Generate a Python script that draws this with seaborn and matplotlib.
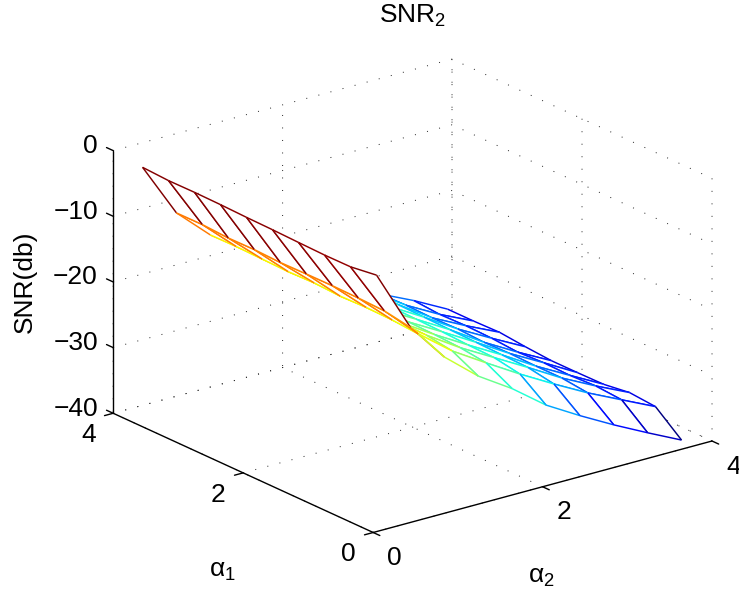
import matplotlib
matplotlib.use("Agg")
import matplotlib.pyplot as plt
import seaborn as sns
import numpy as np
from matplotlib.colors import Normalize
from matplotlib.transforms import ScaledTranslation
from mpl_toolkits.mplot3d.art3d import Poly3DCollection, Line3DCollection

a1_values = [0.0, 0.4, 0.8, 1.2, 1.6, 2.0, 2.4, 2.8, 3.2, 3.6]
a2_values = [0.04, 0.44, 0.84, 1.24, 1.64, 2.04, 2.44, 2.84, 3.24, 3.64]

# one row per a2, one column per a1
snr_rows = [
    [-0.95, -1.5, -1.52, -1.42, -1.3, -1.23, -1.11, -1.05, -1.08, -0.87],
    [-10.3, -9.6, -9.46, -9.4, -9.43, -9.5, -9.35, -9.4, -9.17, -9.2],
    [-16.2, -14.5, -14.2, -14.1, -14.2, -14.0, -14.1, -14.0, -13.9, -13.95],
    [-20.5, -18.5, -17.9, -17.8, -17.7, -17.6, -17.6, -17.5, -17.4, -17.3],
    [-23.8, -21.7, -21.2, -21.0, -20.9, -20.8, -20.7, -20.6, -20.5, -20.4],
    [-27.7, -24.8, -24.1, -24.0, -23.8, -23.7, -23.6, -23.5, -23.4, -23.3],
    [-30.7, -27.7, -27.0, -26.9, -26.8, -26.7, -26.6, -26.5, -26.4, -26.4],
    [-33.5, -30.45, -30.0, -30.0, -29.9, -30.0, -29.8, -29.9, -29.8, -29.9],
    [-36.1, -32.9, -32.6, -32.8, -32.7, -32.9, -32.6, -32.5, -32.6, -32.3],
    [-38.6, -35.33, -35.0, -35.55, -35.6, -35.6, -35.3, -34.9, -35.0, -35.0],
]
a_ticks = [0, 2, 4]
z_ticks = [-40, -30, -20, -10, 0]

sns.set_style("white")
plt.rcParams["font.family"] = ["Liberation Sans", "DejaVu Sans"]
plt.rcParams["mathtext.fontset"] = "custom"
plt.rcParams["mathtext.rm"] = "Liberation Sans"
plt.rcParams["mathtext.it"] = "Liberation Sans"
plt.rcParams["mathtext.default"] = "regular"
plt.rcParams["font.size"] = 19
plt.rcParams["text.color"] = "black"
plt.rcParams["xtick.color"] = "black"
plt.rcParams["ytick.color"] = "black"

fig = plt.figure(figsize=(7.39, 5.97), dpi=100)
ax = fig.add_axes([0.0474, -0.009, 1.0, 1.0], projection="3d", computed_zorder=False)
ax.set_proj_type("ortho")
ax.view_init(elev=20.6, azim=-127.5)
ax.set_box_aspect((1, 1, 0.657), zoom=1.083)
ax.set_xlim(0, 4)
ax.set_ylim(0, 4)
ax.set_zlim(-40, 0)
ax.set_xticks(a_ticks)
ax.set_yticks(a_ticks)
ax.set_zticks(z_ticks)
ax.tick_params(labelsize=19, pad=7)
ax.tick_params(axis="z", pad=-2.3)
ax.patch.set_alpha(0)

for axis in (ax.xaxis, ax.yaxis, ax.zaxis):
    axis.set_pane_color((1, 1, 1, 0))
    axis.pane.set_edgecolor((1, 1, 1, 0))
    axis.line.set_color("black")
    axis.line.set_linewidth(1.0)
    axis._axinfo["grid"].update(color="#222222", linewidth=0.7, linestyle=(0, (1, 11.86)))
    axis._axinfo["tick"].update(inward_factor=0.0, outward_factor=-0.32, linewidth={True: 1.0, False: 1.0})

# z ticks point along a1 like in the reference
ax.zaxis._get_tickdir = lambda pos: 1
ax.zaxis._axinfo["tick"].update(outward_factor=0.32)


def nudge(labels, dx, dy, **align):
    # small pixel shift of the tick labels, 3d axes reset the transform on every draw
    for label in labels:
        label.set(**align)
        label.set_transform(ax.transData + ScaledTranslation(dx / 100, dy / 100, fig.dpi_scale_trans))
        label.set_transform = lambda t: None


nudge(ax.get_xticklabels(), 4, 0, ha="center", va="center")
nudge(ax.get_yticklabels(), -2, 2, ha="center", va="center")
nudge(ax.get_zticklabels(), 0, 4, ha="right", va="center")

ax.text2D(412.5 / 739, 1 - 23 / 597, r"SNR$_2$", transform=fig.transFigure, ha="center", va="baseline")
ax.text2D(222 / 739, 1 - 571 / 597, r"α$_1$", transform=fig.transFigure, ha="center", va="center")
ax.text2D(541 / 739, 1 - 577 / 597, r"α$_2$", transform=fig.transFigure, ha="center", va="center")
ax.text2D(25 / 739, 1 - 282 / 597, "SNR(db)", transform=fig.transFigure, ha="center", va="center", rotation=90)

snr = np.array(snr_rows)
jet = matplotlib.colormaps["jet"]
norm = Normalize(snr.min(), snr.max())

# far quads first so the near ones hide them, edge colour comes from the lower index corner
order = 0
for j in range(len(a2_values) - 2, -1, -1):
    for i in range(len(a1_values) - 2, -1, -1):
        x0, x1 = a2_values[j], a2_values[j + 1]
        y0, y1 = a1_values[i], a1_values[i + 1]
        p00 = (x0, y0, snr[j, i])
        p01 = (x0, y1, snr[j, i + 1])
        p10 = (x1, y0, snr[j + 1, i])
        p11 = (x1, y1, snr[j + 1, i + 1])
        face = Poly3DCollection([[p00, p01, p11, p10]], facecolor="white", edgecolor="none", zorder=order)
        ax.add_collection3d(face, autolim=False)
        edges = [[p00, p01], [p00, p10], [p01, p11], [p10, p11]]
        colors = [jet(norm(snr[j, i])), jet(norm(snr[j, i])), jet(norm(snr[j, i + 1])), jet(norm(snr[j + 1, i]))]
        ax.add_collection3d(Line3DCollection(edges, colors=colors, linewidths=1.05, zorder=order + 0.5), autolim=False)
        order += 1

fig.savefig("out.png", dpi=100)
